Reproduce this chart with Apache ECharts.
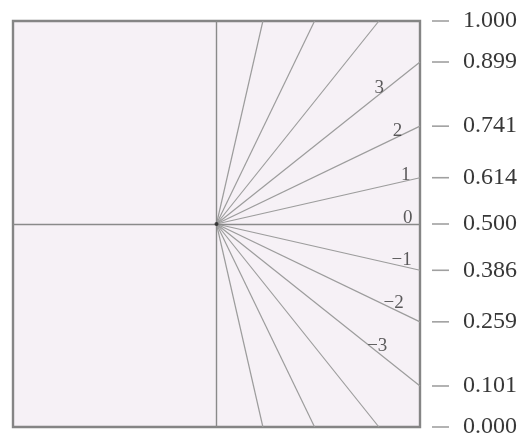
<!DOCTYPE html>
<html>
<head>
<meta charset="utf-8">
<script src="https://cdn.jsdelivr.net/npm/echarts@6/dist/echarts.min.js"></script>
<style>
  html, body { margin: 0; padding: 0; background: #ffffff; }
  #chart { width: 524px; height: 439px; }
</style>
</head>
<body>
<div id="chart"></div>
<script>
// Right-hand scale: tick positions and their printed labels
const tickValues = [0, 0.101, 0.259, 0.386, 0.5, 0.614, 0.741, 0.899, 1];
const tickLabels = ['0.000', '0.101', '0.259', '0.386', '0.500', '0.614', '0.741', '0.899', '1.000'];

// Fan of rays from the centre point
const origin = [0.5, 0.5];
const rayNames = ['\u22123', '\u22122', '\u22121', '0', '1', '2', '3'];
const rightEdgeHits = [0.101, 0.259, 0.386, 0.500, 0.614, 0.741, 0.899]; // y where a ray meets x = 1
const topEdgeHits = [0.614, 0.741, 0.899];    // x where a ray meets y = 1
const bottomEdgeHits = [0.614, 0.741, 0.899]; // x where a ray meets y = 0

// How far along each labelled ray its name sits (0 = centre, 1 = edge)
const labelAlong = [0.79, 0.87, 0.91, 0.94, 0.93, 0.89, 0.80];

const rayLines = [];
rightEdgeHits.forEach(y => rayLines.push({ coords: [origin, [1, y]] }));
topEdgeHits.forEach(x => rayLines.push({ coords: [origin, [x, 1]] }));
bottomEdgeHits.forEach(x => rayLines.push({ coords: [origin, [x, 0]] }));

const axisLines = [
  { coords: [[0, 0.5], [1, 0.5]] },
  { coords: [[0.5, 0], [0.5, 1]] }
];

const labelPoints = rightEdgeHits.map((y, i) => {
  const t = labelAlong[i];
  return {
    value: [origin[0] + t * (1 - origin[0]), origin[1] + t * (y - origin[1])],
    name: rayNames[i]
  };
});

const serif = "'Liberation Serif', 'DejaVu Serif', serif";

const chart = echarts.init(document.getElementById('chart'), null, { renderer: 'canvas' });
chart.setOption({
  animation: false,
  backgroundColor: '#ffffff',
  grid: {
    left: 13, right: 104, top: 21, bottom: 8,
    show: true,
    backgroundColor: '#f6f1f6',
    borderColor: '#858585',
    borderWidth: 2.4
  },
  xAxis: {
    type: 'value', min: 0, max: 1,
    show: false
  },
  yAxis: {
    type: 'value', min: 0, max: 1,
    position: 'right',
    splitLine: { show: false },
    axisLine: { show: false },
    axisTick: { show: false },
    axisLabel: {
      show: true,
      margin: 12,
      customValues: tickValues,
      // each label is a short dash mark followed by the value
      formatter: v => {
        const i = tickValues.findIndex(t => Math.abs(t - v) < 1e-9);
        return i >= 0 ? '{dash|}{gap|}{num|' + tickLabels[i] + '}' : '';
      },
      rich: {
        dash: { width: 17, height: 1.6, backgroundColor: '#a0a0a0', verticalAlign: 'middle' },
        gap: { width: 14, height: 1 },
        num: { fontFamily: serif, fontSize: 24, color: '#383838', verticalAlign: 'middle' }
      }
    }
  },
  series: [
    {
      type: 'lines',
      coordinateSystem: 'cartesian2d',
      silent: true,
      lineStyle: { color: '#9c9c9c', width: 1.2, opacity: 1 },
      data: rayLines
    },
    {
      type: 'lines',
      coordinateSystem: 'cartesian2d',
      silent: true,
      lineStyle: { color: '#8a8a8a', width: 1.4, opacity: 1 },
      data: axisLines
    },
    {
      type: 'scatter',
      silent: true,
      symbolSize: 4,
      itemStyle: { color: '#222222' },
      data: [origin]
    },
    {
      type: 'scatter',
      silent: true,
      symbolSize: 0,
      data: labelPoints,
      label: {
        show: true,
        position: 'inside',
        offset: [0, -6],
        formatter: p => p.name,
        fontFamily: serif,
        fontSize: 19,
        color: '#333333'
      }
    }
  ]
});
</script>
</body>
</html>
